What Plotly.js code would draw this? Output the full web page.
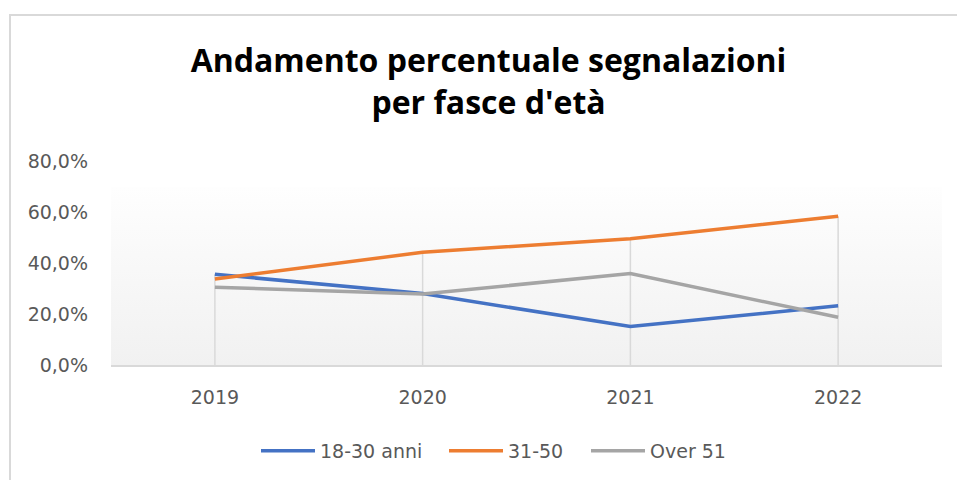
<!DOCTYPE html>
<html>
<head>
<meta charset="utf-8">
<script src="https://cdn.plot.ly/plotly-3.0.1.min.js"></script>
<style>
  html, body { margin:0; padding:0; width:957px; height:480px; overflow:hidden; background:#fff; }
  #frame { position:absolute; left:9px; top:14px; width:2000px; height:2000px;
           border-left:2px solid #d9d9d9; border-top:2px solid #d9d9d9; }
  #chart { position:absolute; left:0; top:0; width:957px; height:480px; }
</style>
</head>
<body>
<div id="frame"></div>
<div id="chart"></div>
<script>
const years = ['2019', '2020', '2021', '2022'];
const giovani = [0.356, 0.280, 0.151, 0.232];   // 18-30 anni
const adulti  = [0.337, 0.442, 0.495, 0.583];   // 31-50
const over    = [0.305, 0.278, 0.359, 0.187];   // Over 51
const seriesNames = ['18-30 anni', '31-50', 'Over 51'];
const seriesColors = ['#4472C4', '#ED7D31', '#A5A5A5'];
const yTicks = [0, 0.2, 0.4, 0.6, 0.8];

const allSeries = [giovani, adulti, over];
const legendIds = ['legend', 'legend2', 'legend3'];
const legendX = [256, 444, 586];

// drop lines from highest value to axis
const dx = [], dy = [];
years.forEach((yr, i) => {
  const m = Math.max(...allSeries.map(s => s[i]));
  dx.push(yr, yr, null);
  dy.push(0, m, null);
});

const traces = [{
  x: dx, y: dy, type: 'scatter', mode: 'lines',
  line: { color: '#d9d9d9', width: 1.5 },
  showlegend: false, hoverinfo: 'skip'
}];
allSeries.forEach((s, k) => {
  traces.push({
    x: years, y: s, type: 'scatter', mode: 'lines',
    name: seriesNames[k], legend: legendIds[k],
    line: { color: seriesColors[k], width: 3.5 }
  });
});

const svg = '<svg xmlns="http://www.w3.org/2000/svg" width="100" height="100" preserveAspectRatio="none">' +
  '<defs><linearGradient id="g" x1="0" y1="0" x2="0" y2="1">' +
  '<stop offset="0" stop-color="#fefefe"/><stop offset="1" stop-color="#f1f1f1"/>' +
  '</linearGradient></defs><rect width="100" height="100" fill="url(#g)"/></svg>';

const plotTop = 161, plotBottom = 365.5;
const gradTop = 187;
const gTop = (plotBottom - gradTop) / (plotBottom - plotTop);

const legendFont = { family: 'DejaVu Sans', size: 19, color: '#595959' };

const layout = {
  width: 957, height: 480,
  margin: { l: 111, r: 15, t: plotTop, b: 480 - plotBottom, pad: 0 },
  paper_bgcolor: 'rgba(0,0,0,0)',
  plot_bgcolor: 'rgba(0,0,0,0)',
  separators: ',.',
  font: { family: 'DejaVu Sans', size: 19, color: '#595959' },
  title: {
    text: '<b>Andamento percentuale segnalazioni<br>per fasce d\'età</b>',
    font: { family: 'Open Sans', size: 32, color: '#000000' },
    xref: 'container', x: 488.5 / 957, xanchor: 'center',
    yref: 'container', y: 1 - 72 / 480, yanchor: 'middle'
  },
  xaxis: {
    type: 'category', range: [-0.5, 3.5],
    showgrid: false, zeroline: false,
    showline: true, linecolor: '#d9d9d9', linewidth: 1.5,
    ticks: '', ticklabelstandoff: 15,
    tickfont: { family: 'DejaVu Sans', size: 19, color: '#595959' },
    fixedrange: true
  },
  yaxis: {
    range: [0, 0.8], tickvals: yTicks, tickformat: '.1%',
    showgrid: false, zeroline: false, showline: false,
    ticks: '', ticklabelstandoff: 22,
    tickfont: { family: 'DejaVu Sans', size: 19, color: '#595959' },
    fixedrange: true
  },
  images: [{
    source: 'data:image/svg+xml;utf8,' + encodeURIComponent(svg),
    xref: 'paper', yref: 'paper', x: 0, y: gTop, sizex: 1, sizey: gTop,
    xanchor: 'left', yanchor: 'top', sizing: 'stretch', layer: 'below'
  }],
  showlegend: true,
  hovermode: false
};
legendIds.forEach((id, k) => {
  layout[id] = {
    orientation: 'h', xref: 'container', yref: 'container',
    x: legendX[k] / 957, xanchor: 'left', y: 1 - 451 / 480, yanchor: 'middle',
    font: legendFont, bgcolor: 'rgba(0,0,0,0)', itemwidth: 54
  };
});

Plotly.newPlot('chart', traces, layout, { displayModeBar: false, staticPlot: true });
</script>
</body>
</html>
